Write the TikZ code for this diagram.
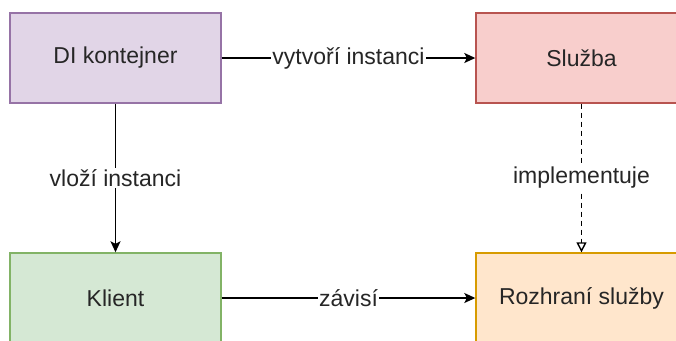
\documentclass[tikz,border=0pt]{standalone}
\usepackage{fontspec}
\setmainfont{Liberation Sans}
\usetikzlibrary{arrows.meta}
\definecolor{pfill}{HTML}{E1D5E7}\definecolor{pdraw}{HTML}{9673A6}
\definecolor{rfill}{HTML}{F8CECC}\definecolor{rdraw}{HTML}{B85450}
\definecolor{gfill}{HTML}{D5E8D4}\definecolor{gdraw}{HTML}{82B366}
\definecolor{ofill}{HTML}{FFE6CC}\definecolor{odraw}{HTML}{D79B00}
\definecolor{txt}{HTML}{262626}
\begin{document}
\begin{tikzpicture}[x=1pt,y=-1pt,
  box/.style={draw, line width=1.4pt, minimum width=211pt, minimum height=90pt,
    inner sep=0pt, font=\fontsize{23}{27}\selectfont, text=txt},
  conn/.style={line width=1.4pt, black},
  lab/.style={fill=white, inner sep=1pt, font=\fontsize{23}{27}\selectfont, text=txt},
  arr/.style={-{Stealth[length=11pt,width=10pt,inset=2.5pt]}},
  openarr/.style={-{Triangle[open,length=10pt,width=10pt,fill=white]}}]
\useasboundingbox (0,0) rectangle (676,340);
\clip (0,0) rectangle (676,340);
\node[box, fill=pfill, draw=pdraw] (di) at (115.5,58) {DI kontejner};
\node[box, fill=rfill, draw=rdraw] (sl) at (581.5,58) {Služba};
\node[box, fill=gfill, draw=gdraw] (kl) at (115.5,298) {Klient};
\node[box, fill=ofill, draw=odraw] (ro) at (581.5,298) {Rozhraní služby};
\draw[conn, arr] (di.east) -- node[lab] {vytvoří instanci} (sl.west);
\draw[conn, arr] (di.south) -- node[lab] {vloží instanci} (kl.north);
\draw[conn, openarr, dash pattern=on 5pt off 4pt] (sl.south) -- node[lab] {implementuje} (ro.north);
\draw[conn, arr] (kl.east) -- node[lab] {závisí} (ro.west);
\end{tikzpicture}
\end{document}
